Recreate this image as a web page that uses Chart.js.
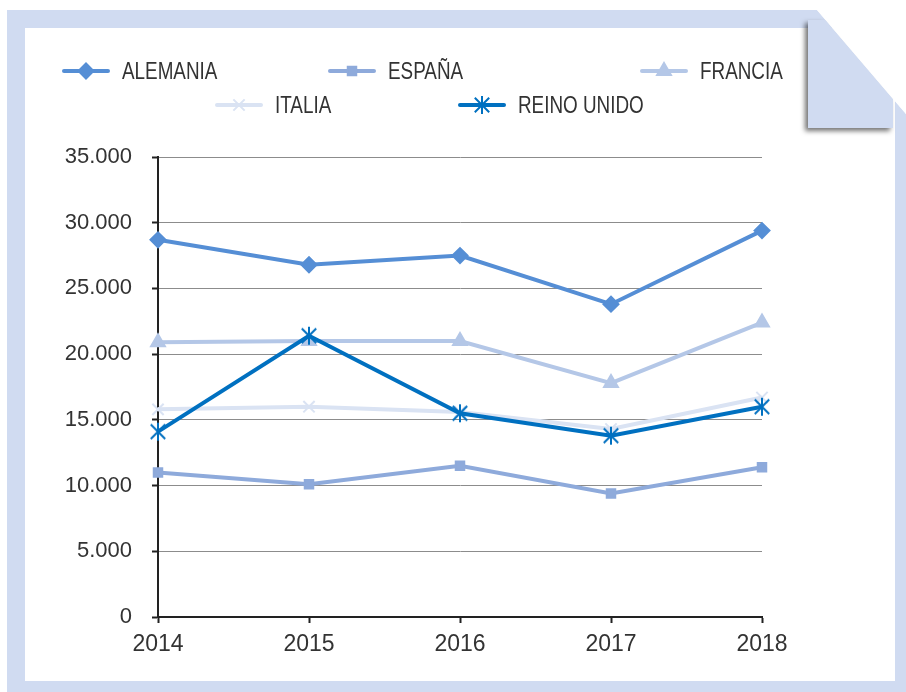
<!DOCTYPE html>
<html>
<head>
<meta charset="utf-8">
<style>
  body { margin: 0; background: #ffffff; }
  canvas { display: block; }
</style>
</head>
<body>
<canvas id="myChart" width="906" height="692"></canvas>
<script src="https://cdn.jsdelivr.net/npm/chart.js@4.4.1/dist/chart.umd.min.js"></script>
<script>

    // Data
    const years = ['2014', '2015', '2016', '2017', '2018'];
    const alemania   = [28700, 26800, 27500, 23800, 29400];
    const espana     = [11000, 10100, 11500,  9400, 11400];
    const francia    = [20900, 21000, 21000, 17800, 22400];
    const italia     = [15800, 16000, 15600, 14300, 16700];
    const reinoUnido = [14100, 21400, 15500, 13800, 16000];

    const frameBlue = '#d0dbf1';

    // Excel style asterisk marker (X plus vertical bar)
    function asterisk(color, size) {
        const c = document.createElement('canvas');
        c.width = size; c.height = size;
        const g = c.getContext('2d');
        const m = size / 2, r = size / 2 - 1;
        g.strokeStyle = color;
        g.lineWidth = 2;
        g.beginPath();
        g.moveTo(m - r * 0.8, m - r * 0.8); g.lineTo(m + r * 0.8, m + r * 0.8);
        g.moveTo(m + r * 0.8, m - r * 0.8); g.lineTo(m - r * 0.8, m + r * 0.8);
        g.moveTo(m, m - r); g.lineTo(m, m + r);
        g.stroke();
        return c;
    }

    // Page frame with folded corner
    const pageFrame = {
        id: 'pageFrame',
        beforeDraw: (chart) => {
            const {ctx} = chart;
            ctx.save();
            ctx.fillStyle = '#ffffff';
            ctx.fillRect(0, 0, chart.width, chart.height);

            ctx.fillStyle = frameBlue;
            ctx.beginPath();
            ctx.moveTo(7, 10);
            ctx.lineTo(817, 10);
            ctx.lineTo(906, 114);
            ctx.lineTo(906, 692);
            ctx.lineTo(7, 692);
            ctx.closePath();
            ctx.fill();

            ctx.fillStyle = '#ffffff';
            ctx.fillRect(25, 28, 870, 653);

            // flap, cut by the diagonal
            ctx.save();
            ctx.shadowColor = 'rgba(0,0,0,0.55)';
            ctx.shadowBlur = 5;
            ctx.shadowOffsetX = -3;
            ctx.shadowOffsetY = 3;
            ctx.fillStyle = frameBlue;
            ctx.beginPath();
            ctx.moveTo(808, 20);
            ctx.lineTo(825.5, 20);
            ctx.lineTo(893, 99);
            ctx.lineTo(893, 128);
            ctx.lineTo(808, 128);
            ctx.closePath();
            ctx.fill();
            ctx.restore();

            // clean cut outside the diagonal
            ctx.fillStyle = '#ffffff';
            ctx.beginPath();
            ctx.moveTo(817, 10);
            ctx.lineTo(906, 114);
            ctx.lineTo(906, 0);
            ctx.lineTo(817, 0);
            ctx.closePath();
            ctx.fill();
            ctx.restore();
        }
    };

    // Legend laid out like the original (three items, then two)
    const legendSpots = [
        {x: 62,  y: 71},
        {x: 328, y: 71},
        {x: 640, y: 71},
        {x: 215, y: 105},
        {x: 458, y: 105}
    ];

    const lineLegend = {
        id: 'lineLegend',
        afterDraw: (chart) => {
            const {ctx} = chart;
            ctx.save();
            chart.data.datasets.forEach((ds, i) => {
                const s = legendSpots[i];
                ctx.strokeStyle = ds.borderColor;
                ctx.lineWidth = 4;
                ctx.lineCap = 'round';
                ctx.beginPath();
                ctx.moveTo(s.x + 2, s.y);
                ctx.lineTo(s.x + 46, s.y);
                ctx.stroke();
                ctx.lineCap = 'butt';
                ctx.fillStyle = ds.pointBackgroundColor;
                ctx.strokeStyle = ds.pointBorderColor;
                ctx.lineWidth = ds.pointBorderWidth;
                Chart.helpers.drawPoint(ctx, {
                    pointStyle: ds.pointStyle,
                    radius: ds.pointRadius,
                    borderWidth: ds.pointBorderWidth,
                    rotation: 0
                }, s.x + 24, s.y);
                // narrow face is not installed, so squeeze the text
                ctx.save();
                ctx.translate(s.x + 60, s.y + 2);
                ctx.scale(0.82, 1);
                ctx.fillStyle = '#333333';
                ctx.font = "23px 'Liberation Sans', Arial, sans-serif";
                ctx.textAlign = 'left';
                ctx.textBaseline = 'middle';
                ctx.fillText(ds.label, 0, 0);
                ctx.restore();
            });
            ctx.restore();
        }
    };

    function series(label, data, color, style, radius, order) {
        return {
            label: label,
            data: data,
            borderColor: color,
            backgroundColor: color,
            borderWidth: 4,
            pointStyle: style,
            pointRadius: radius,
            pointHoverRadius: radius,
            pointBackgroundColor: color,
            pointBorderColor: color,
            pointBorderWidth: 2,
            tension: 0,
            order: order
        };
    }

    const ctx = document.getElementById('myChart');

    const chart = new Chart(ctx, {
        type: 'line',
        plugins: [pageFrame, lineLegend],
        data: {
            labels: years,
            datasets: [
                series('ALEMANIA', alemania, '#558ed5', 'rectRot', 7.5, 2),
                series('ESPAÑA', espana, '#8eaadb', 'rect', 6, 2),
                series('FRANCIA', francia, '#b4c7e7', 'triangle', 8, 2),
                series('ITALIA', italia, '#dae3f3', 'crossRot', 8, 2),
                series('REINO UNIDO', reinoUnido, '#0070c0', asterisk('#0070c0', 20), 10, 1)
            ]
        },
        options: {
            responsive: false,
            animation: false,
            layout: {
                padding: { left: 40, right: 144, top: 157, bottom: 30 }
            },
            plugins: {
                legend: { display: false },
                tooltip: { enabled: false }
            },
            scales: {
                x: {
                    offset: false,
                    afterFit: (scale) => { scale.height = 45; },
                    grid: {
                        drawOnChartArea: false,
                        drawTicks: true,
                        tickLength: 6,
                        tickColor: '#222222',
                        tickWidth: 2
                    },
                    border: { color: '#222222', width: 2 },
                    ticks: {
                        color: '#333333',
                        padding: 8,
                        font: { family: "'Liberation Sans', Arial, sans-serif", size: 23 }
                    }
                },
                y: {
                    min: 0,
                    max: 35000,
                    afterFit: (scale) => { scale.width = 118; },
                    grid: {
                        color: '#8c8c8c',
                        lineWidth: 1,
                        tickLength: 6,
                        tickColor: '#222222',
                        tickWidth: 2
                    },
                    border: { color: '#222222', width: 2 },
                    ticks: {
                        stepSize: 5000,
                        color: '#333333',
                        padding: 20,
                        font: { family: "'Liberation Sans', Arial, sans-serif", size: 22 },
                        callback: (v) => v === 0 ? '0' : (v / 1000).toFixed(3)
                    }
                }
            }
        }
    });
</script>
</body>
</html>
